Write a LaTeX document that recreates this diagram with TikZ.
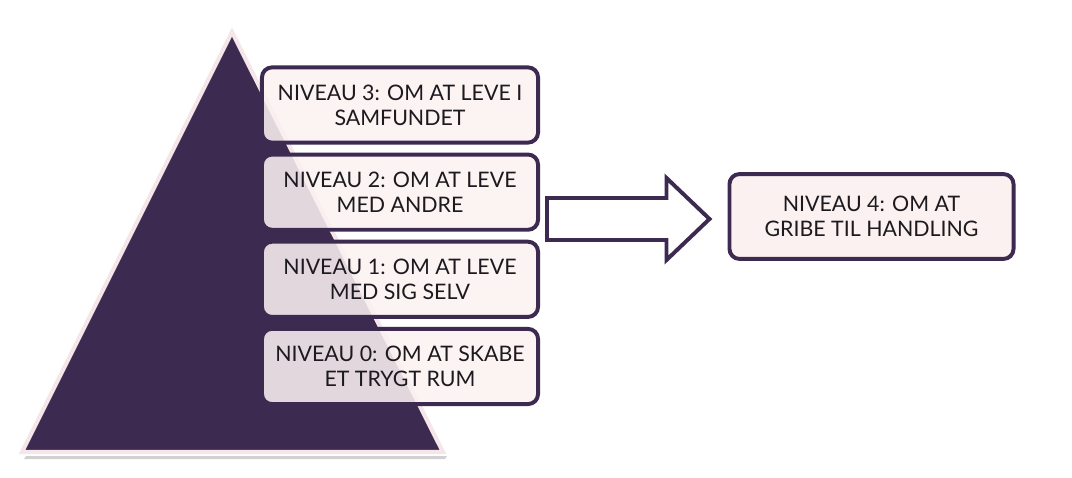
\documentclass[tikz,border=0pt]{standalone}
\usepackage{fontspec}
\setmainfont{Lato}
\usepackage{tikz}
\usetikzlibrary{positioning, calc}
\definecolor{plum}{HTML}{3D2A51}
\definecolor{blush}{HTML}{FBF1F1}
\definecolor{halo}{HTML}{F4E6E9}
\definecolor{ink}{HTML}{1C1A1E}

\tikzset{
  level/.style={draw=plum, line width=2.8pt, rounded corners=0.25cm,
    fill=blush, fill opacity=0.87, text opacity=1, text=ink,
    minimum width=6.9cm, minimum height=1.88cm, align=center,
    font=\fontsize{15.2}{17.8}\selectfont},
  blockarrow/.style={draw=plum, line width=2.8pt, fill=white, line join=miter}
}

\begin{document}
\begin{tikzpicture}[x=0.025cm, y=-0.025cm]
  \useasboundingbox (0,0) rectangle (1072,478);
  % pyramid
  \fill[black!18] (26,456) -- (447,456) -- (445,459) -- (24,459) -- cycle;
  \draw[halo, line width=3pt, line join=miter, fill=plum] (232,32) -- (443,452) -- (22,452) -- cycle;
  % levels
  \node[level] (n3) at (400,105) {NIVEAU 3: OM AT LEVE I\\SAMFUNDET};
  \node[level, below=0.2cm of n3] (n2) {NIVEAU 2: OM AT LEVE\\MED ANDRE};
  \node[level, below=0.2cm of n2] (n1) {NIVEAU 1: OM AT LEVE\\MED SIG SELV};
  \node[level, below=0.2cm of n1] (n0) {NIVEAU 0: OM AT SKABE\\ET TRYGT RUM};
  \node[level, fill opacity=1, minimum width=7.1cm, minimum height=2.12cm] (n4) at (871.5,216.5) {NIVEAU 4: OM AT\\GRIBE TIL HANDLING};
  % arrow
  \coordinate (a1) at ($(n4.west)+(-18,2.5)$);
  \path ($(n2.east)+(7,0)$) coordinate (a0x);
  \coordinate (a0) at (a0x |- a1);
  \draw[blockarrow] ($(a0)+(0,-21)$) -- ($(a1)+(-43,-21)$) -- ($(a1)+(-43,-41)$) -- (a1)
    -- ($(a1)+(-43,41)$) -- ($(a1)+(-43,21)$) -- ($(a0)+(0,21)$) -- cycle;
\end{tikzpicture}
\end{document}
